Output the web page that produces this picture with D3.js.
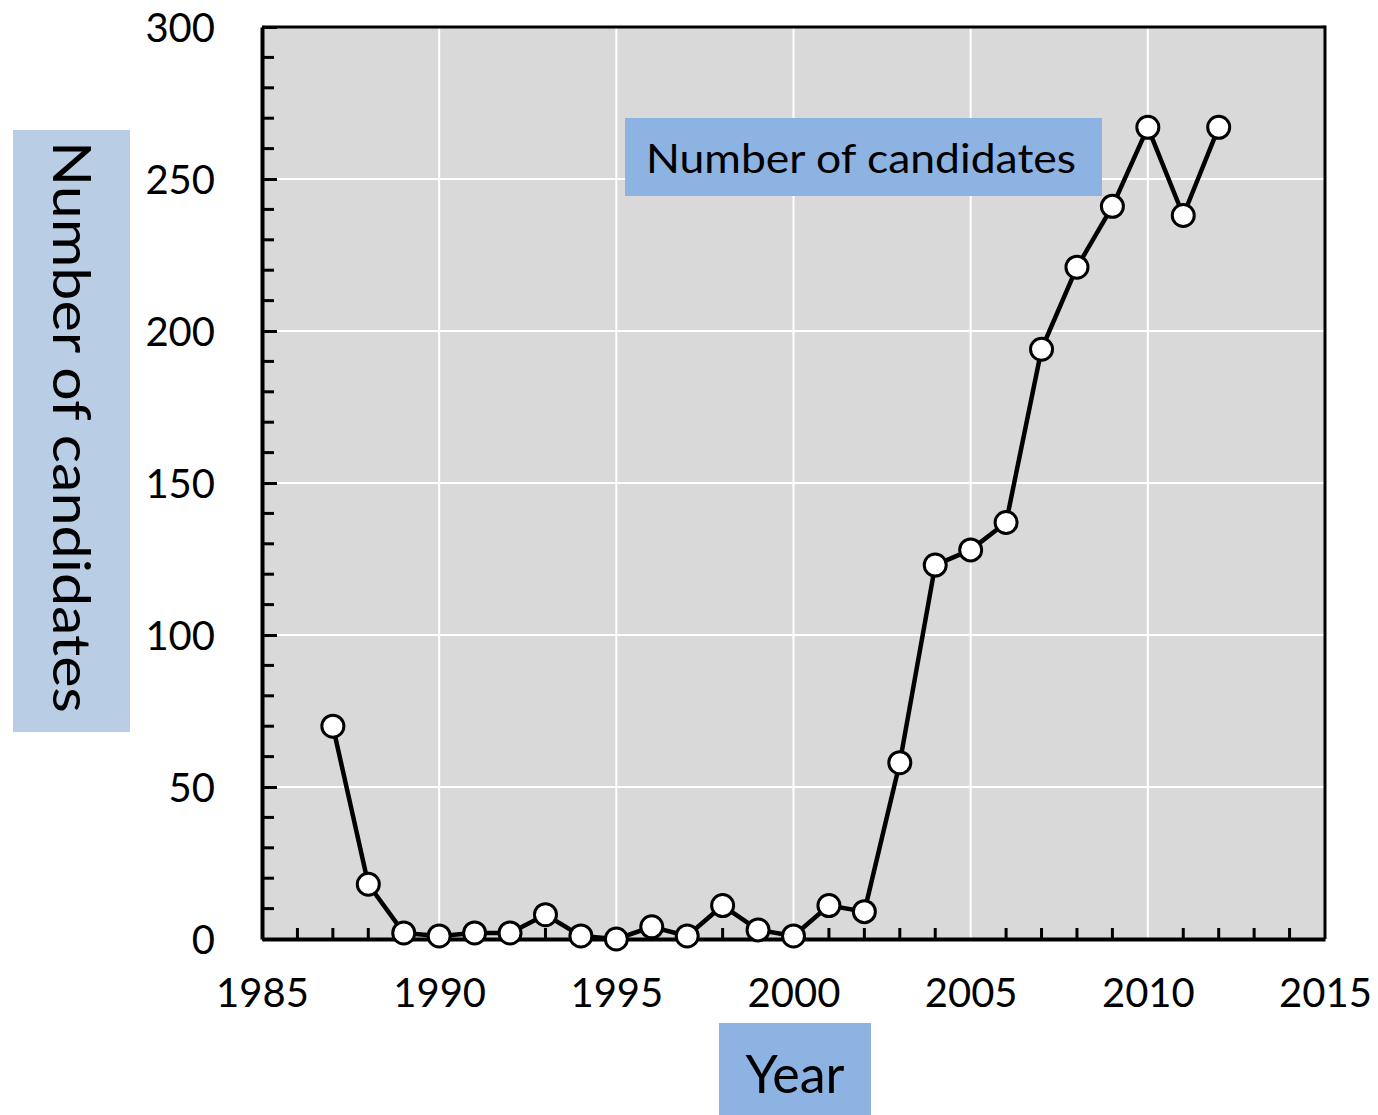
<!DOCTYPE html>
<html>
<head>
<meta charset="utf-8">
<script src="https://cdn.jsdelivr.net/npm/d3@7"></script>
<style>
  body { margin: 0; background: #fff; }
  text { font-family: Lato, "Open Sans", sans-serif; }
</style>
</head>
<body>
<svg width="1378" height="1115"></svg>
<script>
var width = 1378;
var height = 1115;
var margin = { top: 27, bottom: 176, left: 262, right: 53 };

// values
var years = [1987, 1988, 1989, 1990, 1991, 1992, 1993, 1994, 1995, 1996, 1997, 1998, 1999,
  2000, 2001, 2002, 2003, 2004, 2005, 2006, 2007, 2008, 2009, 2010, 2011, 2012];
var candidates = [70, 18, 2, 1, 2, 2, 8, 1, 0, 4, 1, 11, 3,
  1, 11, 9, 58, 123, 128, 137, 194, 221, 241, 267, 238, 267];
var xTicks = [1985, 1990, 1995, 2000, 2005, 2010, 2015];
var yTicks = [0, 50, 100, 150, 200, 250, 300];

var data = years.map((y, i) => ({ year: y, n: candidates[i] }));

var svg = d3.select('svg');

// scales
var xScale = d3.scaleLinear().domain([1985, 2015]).range([margin.left, width - margin.right]);
var yScale = d3.scaleLinear().domain([0, 300]).range([height - margin.bottom, margin.top]);

var x0 = xScale(1985), x1 = xScale(2015), y0 = yScale(0), y1 = yScale(300);

// plot background
svg.append('rect').attr('x', x0).attr('y', y1).attr('width', x1 - x0).attr('height', y0 - y1)
  .attr('fill', '#d9d9d9');

// grid
svg.append('g').selectAll('line').data(yTicks.slice(1, -1)).enter().append('line')
  .attr('x1', x0).attr('x2', x1).attr('y1', d => yScale(d)).attr('y2', d => yScale(d))
  .attr('stroke', '#fff').attr('stroke-width', 2);
svg.append('g').selectAll('line').data(xTicks.slice(1, -1)).enter().append('line')
  .attr('y1', y1).attr('y2', y0).attr('x1', d => xScale(d)).attr('x2', d => xScale(d))
  .attr('stroke', '#fff').attr('stroke-width', 2);

// minor ticks, inward
var yMinor = d3.range(0, 301, 10).filter(d => d % 50 != 0);
svg.append('g').selectAll('line').data(yMinor).enter().append('line')
  .attr('x1', x0).attr('x2', x0 + 12).attr('y1', d => yScale(d)).attr('y2', d => yScale(d))
  .attr('stroke', '#000').attr('stroke-width', 3);
var xMinor = d3.range(1986, 2015).filter(d => d % 5 != 0);
svg.append('g').selectAll('line').data(xMinor).enter().append('line')
  .attr('y1', y0).attr('y2', y0 - 11).attr('x1', d => xScale(d)).attr('x2', d => xScale(d))
  .attr('stroke', '#000').attr('stroke-width', 3);

// axes
var yAxis = d3.axisLeft(yScale).tickValues(yTicks).tickSizeInner(-15).tickSizeOuter(0).tickPadding(47);
var gy = svg.append('g').attr('transform', 'translate(' + [x0, 0] + ')').call(yAxis);
var xAxis = d3.axisBottom(xScale).tickValues(xTicks).tickFormat(d3.format('d'))
  .tickSizeInner(0).tickSizeOuter(0).tickPadding(40);
var gx = svg.append('g').attr('transform', 'translate(' + [0, y0] + ')').call(xAxis);
[gx, gy].forEach(g => {
  g.select('.domain').attr('stroke', '#000').attr('stroke-width', 4);
  g.selectAll('.tick line').attr('stroke', '#000').attr('stroke-width', 3);
  g.selectAll('.tick text').attr('fill', '#000').style('font-size', '40px')
    .style('font-family', 'Lato, "Open Sans", sans-serif');
});
gy.selectAll('.tick text').attr('dy', '0.35em');
gx.selectAll('.tick text').attr('dy', '0.71em');

// right and top frame
svg.append('line').attr('x1', x1).attr('x2', x1).attr('y1', y1 - 1.5).attr('y2', y0)
  .attr('stroke', '#000').attr('stroke-width', 3);
svg.append('line').attr('x1', x0).attr('x2', x1).attr('y1', y1).attr('y2', y1)
  .attr('stroke', '#000').attr('stroke-width', 3);

// series
var line = d3.line().x(d => xScale(d.year)).y(d => yScale(d.n));
svg.append('path').datum(data).attr('d', line).attr('fill', 'none')
  .attr('stroke', '#000').attr('stroke-width', 4.5).attr('stroke-linejoin', 'round');
svg.append('g').selectAll('circle').data(data).enter().append('circle')
  .attr('cx', d => xScale(d.year)).attr('cy', d => yScale(d.n)).attr('r', 11)
  .attr('fill', '#fff').attr('stroke', '#000').attr('stroke-width', 3);

// annotation box
svg.append('rect').attr('x', 625).attr('y', 118).attr('width', 477).attr('height', 78).attr('fill', '#8db3e2');
svg.append('text').attr('x', 646).attr('y', 173).attr('textLength', 430).attr('lengthAdjust', 'spacingAndGlyphs')
  .style('font-size', '40px').attr('fill', '#000').text('Number of candidates');

// x title
svg.append('rect').attr('x', 719).attr('y', 1023).attr('width', 152).attr('height', 92).attr('fill', '#8db3e2');
svg.append('text').attr('x', 795).attr('y', 1093).attr('text-anchor', 'middle')
  .style('font-size', '52px').attr('fill', '#000').text('Year');

// y title
svg.append('rect').attr('x', 13).attr('y', 130).attr('width', 117).attr('height', 602).attr('fill', '#b9cde5');
svg.append('text').attr('transform', 'translate(53,141) rotate(90)')
  .attr('textLength', 572).attr('lengthAdjust', 'spacingAndGlyphs')
  .style('font-size', '52px').attr('fill', '#000').text('Number of candidates');
</script>
</body>
</html>
